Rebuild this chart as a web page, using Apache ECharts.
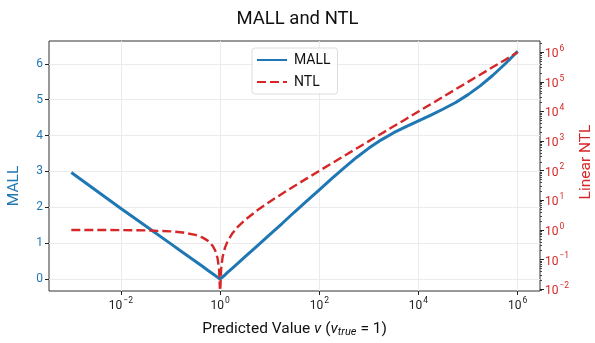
<!DOCTYPE html>
<html>
<head>
<meta charset="utf-8">
<script src="https://cdn.jsdelivr.net/npm/echarts@6/dist/echarts.min.js"></script>
<style>
  html, body { margin: 0; padding: 0; background: #fff; }
  #chart { width: 595px; height: 343px; }
</style>
</head>
<body>
<div id="chart"></div>
<script>
// Sample positions: log10 of the predicted value v (v_true = 1)
const log10V = [-3, -2.5, -2, -1.5, -1, -0.75, -0.5, -0.35, -0.25, -0.15, -0.1, -0.05, -0.02, -0.0045, 0,
  0.0045, 0.02, 0.05, 0.1, 0.15, 0.25, 0.35, 0.5, 0.75, 1, 1.25, 1.5, 1.75, 2, 2.25, 2.5, 2.75, 3,
  3.25, 3.5, 3.75, 4, 4.25, 4.5, 4.75, 5, 5.25, 5.5, 5.75, 6];

// MALL (left axis, linear)
const mallValues = [2.97, 2.47, 1.97, 1.48, 0.99, 0.74, 0.50, 0.35, 0.25, 0.15, 0.10, 0.05, 0.02, 0.005, 0,
  0.006, 0.025, 0.06, 0.12, 0.19, 0.31, 0.43, 0.62, 0.93, 1.24, 1.55, 1.87, 2.18, 2.49, 2.80, 3.10, 3.39, 3.65,
  3.88, 4.08, 4.25, 4.41, 4.57, 4.74, 4.92, 5.14, 5.39, 5.68, 6.00, 6.35];

// Linear NTL (right axis, logarithmic); undefined at v = 1
const ntlValues = [0.999, 0.997, 0.99, 0.968, 0.90, 0.822, 0.684, 0.553, 0.438, 0.292, 0.206, 0.109, 0.045, 0.0103, null,
  0.0104, 0.047, 0.122, 0.259, 0.413, 0.778, 1.24, 2.16, 4.62, 9.0, 16.8, 30.6, 55.2, 99, 177, 315, 561, 999,
  1777, 3161, 5622, 9999, 17782, 31622, 56233, 99999, 177827, 316227, 562340, 999999];

// Tick positions
const xTickExps = [-2, 0, 2, 4, 6];
const mallTicks = [0, 1, 2, 3, 4, 5, 6];
const ntlTickExps = [-2, -1, 0, 1, 2, 3, 4, 5, 6];

const BLUE = '#1f77b4';
const RED = '#d62728';
const FONT = 'Roboto';

// minor ticks of the log NTL axis (2..9 x 10^n)
const ntlMinor = [];
for (let e = -3; e <= 6; e++) {
  for (let k = 2; k <= 9; k++) ntlMinor.push(e + Math.log10(k));
}

const supText = (e) => '{b|10}{s|' + String(e).replace('-', '\u2212') + '}';
const powRich = (color) => ({
  b: { fontSize: 12, color: color, fontFamily: FONT, lineHeight: 16, verticalAlign: 'bottom' },
  s: { fontSize: 8.5, color: color, fontFamily: FONT, lineHeight: 16, verticalAlign: 'top', padding: [0, 0, 0, 1] }
});

const mallData = log10V.map((x, i) => [x, mallValues[i]]);
const ntlData = log10V.map((x, i) => [x, ntlValues[i] == null ? null : Math.log10(ntlValues[i])]);

const chart = echarts.init(document.getElementById('chart'), null, { renderer: 'canvas' });

chart.setOption({
  animation: false,
  backgroundColor: '#ffffff',
  textStyle: { fontFamily: FONT },
  title: {
    text: 'MALL and NTL',
    left: 'center',
    top: 5,
    textStyle: { fontFamily: FONT, fontSize: 18.5, fontWeight: 'normal', color: '#111' }
  },
  grid: {
    left: 49, right: 55, top: 41, bottom: 49,
    show: true, borderColor: '#333', borderWidth: 1, backgroundColor: 'transparent'
  },
  legend: {
    orient: 'vertical',
    left: 252, top: 48,
    data: ['MALL', 'NTL'],
    itemWidth: 30, itemHeight: 12, itemGap: 8,
    padding: [5, 7, 5, 4],
    borderColor: '#dcdcdc', borderWidth: 1, borderRadius: 3,
    backgroundColor: 'rgba(255,255,255,0.85)',
    itemStyle: { opacity: 0 },
    textStyle: { fontFamily: FONT, fontSize: 14, color: '#111', padding: [0, 0, 0, 2] }
  },
  xAxis: {
    type: 'value',
    min: -3.45, max: 6.45,
    name: 'Predicted Value {i|v} ({i|v}{sub|true}= 1)',
    nameLocation: 'middle',
    nameGap: 30,
    nameTextStyle: {
      fontFamily: FONT, fontSize: 15.5, color: '#111',
      rich: {
        i: { fontFamily: FONT, fontSize: 15.5, fontStyle: 'italic', color: '#111' },
        sub: { fontFamily: FONT, fontSize: 11, fontStyle: 'italic', color: '#111', verticalAlign: 'bottom', padding: [6, 4, 0, 0] }
      }
    },
    axisLine: { show: false, onZero: false },
    axisTick: { show: true, length: 4, lineStyle: { color: '#222' }, customValues: xTickExps },
    axisLabel: {
      customValues: xTickExps, margin: 5,
      formatter: (v) => supText(Math.round(v)),
      rich: powRich('#222')
    },
    splitLine: { show: true, lineStyle: { color: '#ebebeb', width: 1 } }
  },
  yAxis: [
    {
      type: 'value',
      position: 'left',
      min: -0.33, max: 6.634,
      axisLine: { show: false, onZero: false },
      axisTick: { show: true, length: 4, lineStyle: { color: '#222' }, customValues: mallTicks },
      axisLabel: { customValues: mallTicks, color: BLUE, fontSize: 12, fontFamily: FONT, margin: 6 },
      splitLine: { show: true, lineStyle: { color: '#ebebeb', width: 1 } }
    },
    {
      type: 'value',
      position: 'right',
      min: -2.06, max: 6.38,
      axisLine: { show: false, onZero: false },
      axisTick: { show: true, length: 4, lineStyle: { color: '#222' }, customValues: ntlTickExps },
      axisLabel: {
        customValues: ntlTickExps, margin: 5,
        formatter: (v) => supText(Math.round(v)),
        rich: powRich(RED)
      },
      splitLine: { show: false }
    },
    {
      type: 'value',
      position: 'right',
      min: -2.06, max: 6.38,
      axisLine: { show: false, onZero: false },
      axisTick: { show: true, length: 2, lineStyle: { color: '#444' }, customValues: ntlMinor },
      axisLabel: { show: false },
      splitLine: { show: false }
    }
  ],
  graphic: [
    {
      type: 'text', rotation: Math.PI / 2,
      style: { text: 'MALL', fill: BLUE, font: '15.5px ' + FONT, textAlign: 'center', textVerticalAlign: 'middle' },
      x: 14, y: 186
    },
    {
      type: 'text', rotation: Math.PI / 2,
      style: { text: 'Linear NTL', fill: RED, font: '15.5px ' + FONT, textAlign: 'center', textVerticalAlign: 'middle' },
      x: 586, y: 162
    }
  ],
  series: [
    {
      name: 'MALL',
      type: 'line',
      yAxisIndex: 0,
      data: mallData,
      showSymbol: false, symbol: 'none',
      color: BLUE,
      lineStyle: { color: BLUE, width: 3 },
      z: 3
    },
    {
      name: 'NTL',
      type: 'line',
      yAxisIndex: 1,
      data: ntlData,
      showSymbol: false, symbol: 'none',
      connectNulls: false,
      color: RED,
      lineStyle: { color: RED, width: 2.4, type: [9, 4] },
      z: 4
    }
  ]
});
</script>
</body>
</html>
